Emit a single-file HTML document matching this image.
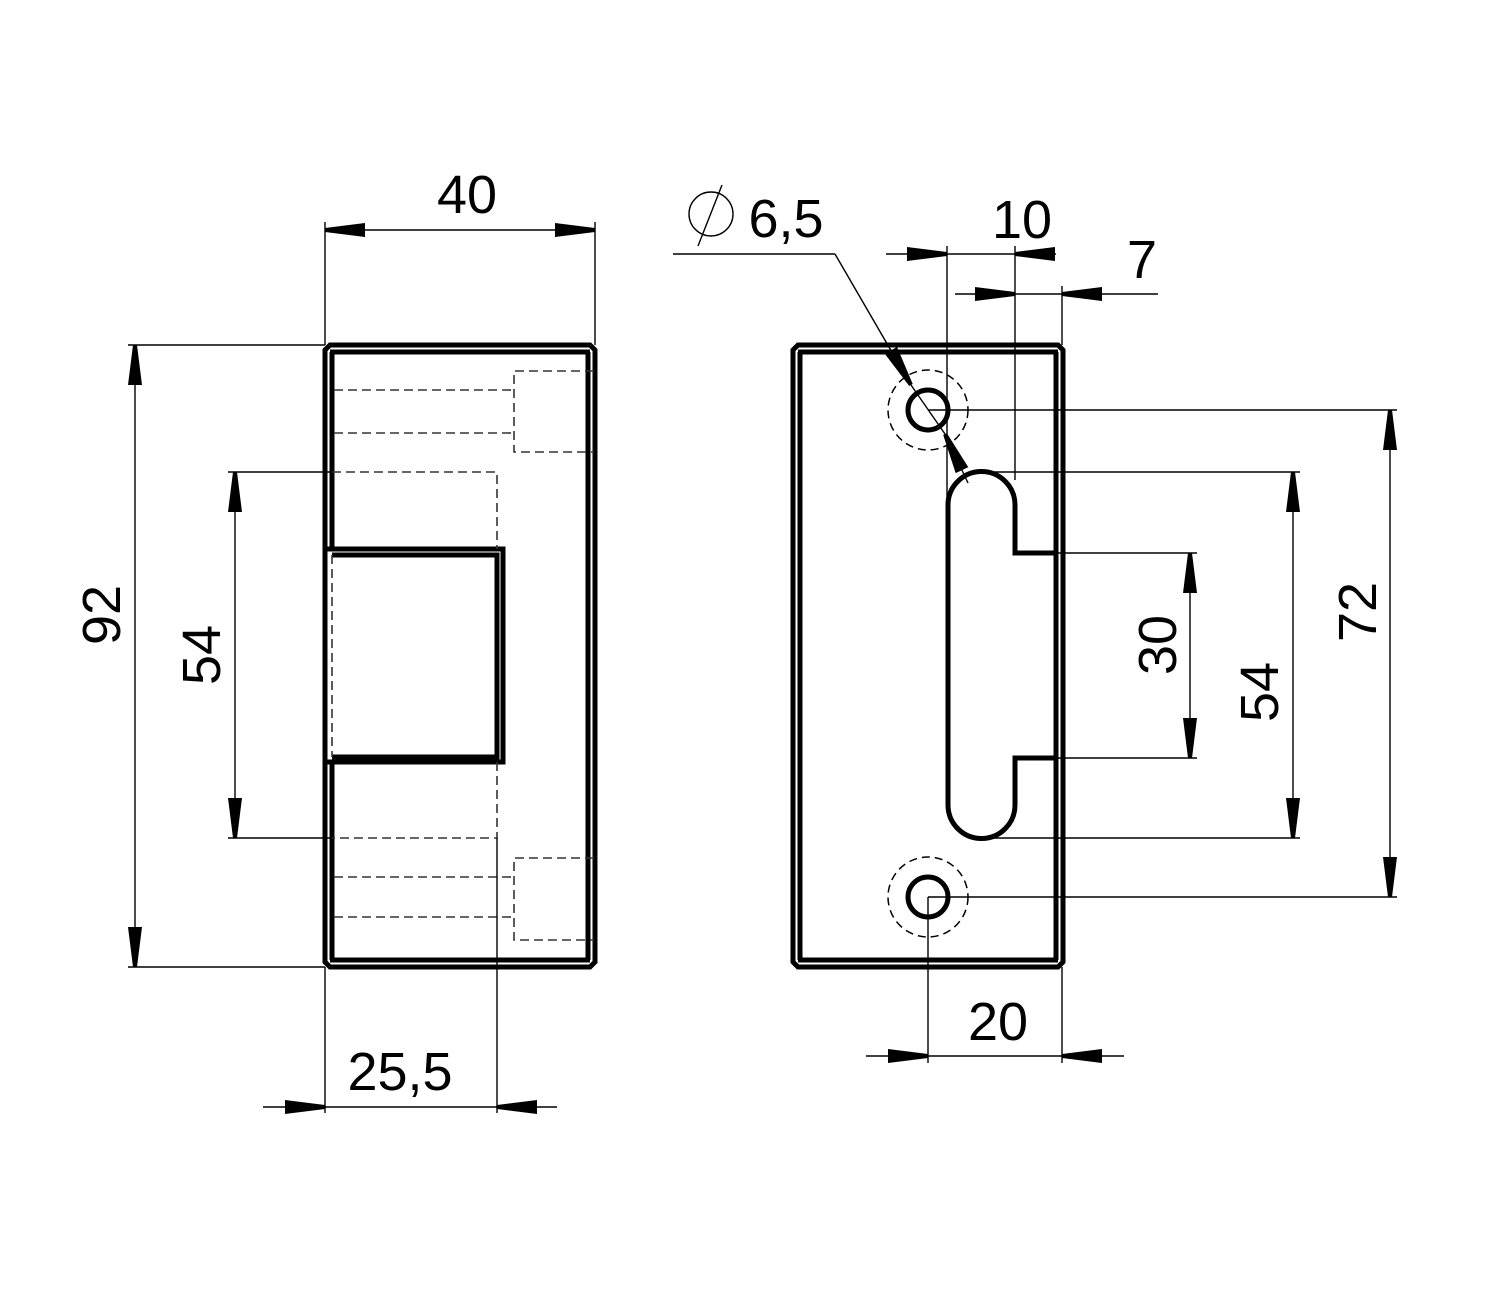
<!DOCTYPE html>
<html><head><meta charset="utf-8"><style>
html,body{margin:0;padding:0;background:#fff;}
svg{display:block;}
text{font-family:"Liberation Sans","DejaVu Sans",sans-serif;font-size:54px;fill:#000;}
</style></head><body>
<svg width="1500" height="1300" viewBox="0 0 1500 1300" xmlns="http://www.w3.org/2000/svg">
<defs>
<marker id="a" markerUnits="userSpaceOnUse" markerWidth="40" markerHeight="14" refX="40" refY="7" orient="auto-start-reverse">
<path d="M0,0 L40,5 L40,9 L0,14 z" fill="#000"/>
</marker>
</defs>
<g fill="none" stroke="#000">
<!-- LEFT BODY -->
<path d="M330,345 L590,345 L595,350 L595,962 L590,967 L330,967 L325,962 L325,350 Z" stroke-width="5"/>
<line x1="330" y1="352" x2="590" y2="352" stroke-width="5"/>
<line x1="330" y1="960" x2="590" y2="960" stroke-width="5"/>
<line x1="332" y1="352" x2="332" y2="549" stroke-width="5"/>
<line x1="332" y1="762" x2="332" y2="960" stroke-width="5"/>
<line x1="588" y1="352" x2="588" y2="960" stroke-width="5"/>
<!-- tongue -->
<path d="M325,549 L503,549 L503,762 L325,762" stroke-width="5"/>
<path d="M332,555 L497,555 L497,757 L332,757" stroke-width="5"/>
<!-- hidden lines -->
<g stroke-width="1.6" stroke-dasharray="9,5" stroke="#333">
<line x1="332" y1="555" x2="332" y2="757"/>
<line x1="334" y1="390" x2="514" y2="390"/>
<line x1="334" y1="433" x2="514" y2="433"/>
<path d="M594,371 L514,371 L514,452 L594,452"/>
<line x1="334" y1="877" x2="514" y2="877"/>
<line x1="334" y1="917" x2="514" y2="917"/>
<path d="M594,858 L514,858 L514,940 L594,940"/>
<path d="M332,472 L497,472 L497,549"/>
<path d="M497,762 L497,838 L332,838"/>
</g>
<!-- left dims -->
<g stroke-width="1.4">
<line x1="325" y1="222" x2="325" y2="345"/>
<line x1="595" y1="222" x2="595" y2="345"/>
<line x1="325" y1="230" x2="595" y2="230" marker-start="url(#a)" marker-end="url(#a)"/>
<line x1="128" y1="345" x2="325" y2="345"/>
<line x1="128" y1="967" x2="325" y2="967"/>
<line x1="135" y1="345" x2="135" y2="967" marker-start="url(#a)" marker-end="url(#a)"/>
<line x1="228" y1="472" x2="332" y2="472"/>
<line x1="228" y1="838" x2="332" y2="838"/>
<line x1="235" y1="472" x2="235" y2="838" marker-start="url(#a)" marker-end="url(#a)"/>
<line x1="325" y1="967" x2="325" y2="1113"/>
<line x1="497" y1="838" x2="497" y2="1113"/>
<line x1="325" y1="1107" x2="497" y2="1107"/>
<line x1="263" y1="1107" x2="325" y2="1107" marker-end="url(#a)"/>
<line x1="557" y1="1107" x2="497" y2="1107" marker-end="url(#a)"/>
</g>
<!-- RIGHT BODY -->
<path d="M798,345 L1058,345 L1063,350 L1063,962 L1058,967 L798,967 L793,962 L793,350 Z" stroke-width="5"/>
<line x1="798" y1="352" x2="1058" y2="352" stroke-width="5"/>
<line x1="798" y1="960" x2="1058" y2="960" stroke-width="5"/>
<line x1="800" y1="352" x2="800" y2="960" stroke-width="5"/>
<line x1="1056" y1="352" x2="1056" y2="960" stroke-width="5"/>
<circle cx="928" cy="410" r="20" stroke-width="5"/>
<circle cx="928" cy="897" r="20" stroke-width="5"/>
<circle cx="928" cy="410" r="40" stroke-width="1.5" stroke-dasharray="8,5"/>
<circle cx="928" cy="897" r="40" stroke-width="1.5" stroke-dasharray="8,5"/>
<path d="M948,805 L948,505 A33.5,33.5 0 0 1 1015,505 L1015,553 L1058,553 M1058,758 L1015,758 L1015,805 A33.5,33.5 0 0 1 948,805" stroke-width="5"/>
<!-- right dims -->
<g stroke-width="1.4">
<line x1="673" y1="254" x2="835" y2="254"/>
<line x1="835" y1="254" x2="911" y2="385" marker-end="url(#a)"/>
<line x1="968" y1="483" x2="945" y2="434" marker-end="url(#a)"/>
<line x1="911" y1="385" x2="945" y2="434"/>
<circle cx="711" cy="214" r="22"/>
<line x1="698" y1="246" x2="722" y2="185"/>
<line x1="947" y1="246" x2="947" y2="500"/>
<line x1="1015" y1="246" x2="1015" y2="480"/>
<line x1="1062" y1="286" x2="1062" y2="345"/>
<line x1="947" y1="254" x2="1015" y2="254"/>
<line x1="886" y1="254" x2="947" y2="254" marker-end="url(#a)"/>
<line x1="1056" y1="254" x2="1015" y2="254" marker-end="url(#a)"/>
<line x1="1015" y1="294" x2="1062" y2="294"/>
<line x1="955" y1="294" x2="1015" y2="294" marker-end="url(#a)"/>
<line x1="1158" y1="294" x2="1062" y2="294" marker-end="url(#a)"/>
<line x1="928" y1="410" x2="1397" y2="410"/>
<line x1="928" y1="897" x2="1397" y2="897"/>
<line x1="1390" y1="410" x2="1390" y2="897" marker-start="url(#a)" marker-end="url(#a)"/>
<line x1="981" y1="472" x2="1300" y2="472"/>
<line x1="981" y1="838" x2="1300" y2="838"/>
<line x1="1293" y1="472" x2="1293" y2="838" marker-start="url(#a)" marker-end="url(#a)"/>
<line x1="1058" y1="553" x2="1197" y2="553"/>
<line x1="1058" y1="758" x2="1197" y2="758"/>
<line x1="1190" y1="553" x2="1190" y2="758" marker-start="url(#a)" marker-end="url(#a)"/>
<line x1="928" y1="897" x2="928" y2="1063"/>
<line x1="1062" y1="967" x2="1062" y2="1063"/>
<line x1="928" y1="1056" x2="1062" y2="1056"/>
<line x1="866" y1="1056" x2="928" y2="1056" marker-end="url(#a)"/>
<line x1="1124" y1="1056" x2="1062" y2="1056" marker-end="url(#a)"/>
</g>
</g>
<g>
<text x="467" y="213" text-anchor="middle">40</text>
<text x="1022" y="238" text-anchor="middle">10</text>
<text x="1142" y="278" text-anchor="middle">7</text>
<text x="786" y="237" text-anchor="middle">6,5</text>
<text x="400" y="1090" text-anchor="middle">25,5</text>
<text x="998" y="1040" text-anchor="middle">20</text>
<text transform="translate(120,615) rotate(-90)" text-anchor="middle">92</text>
<text transform="translate(220,655) rotate(-90)" text-anchor="middle">54</text>
<text transform="translate(1176,645) rotate(-90)" text-anchor="middle">30</text>
<text transform="translate(1278,692) rotate(-90)" text-anchor="middle">54</text>
<text transform="translate(1376,612) rotate(-90)" text-anchor="middle">72</text>
</g>
</svg>
</body></html>
